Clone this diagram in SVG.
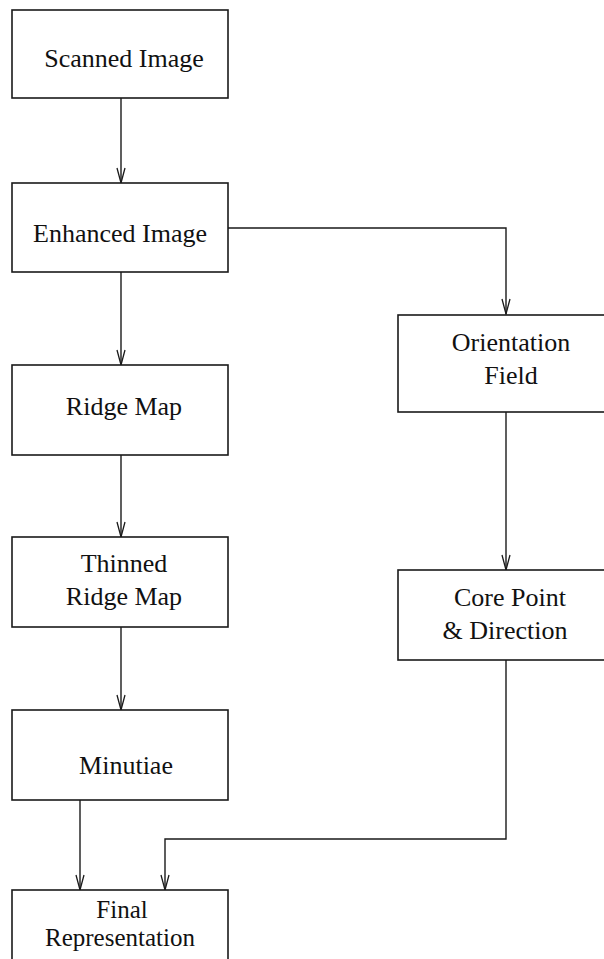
<svg xmlns="http://www.w3.org/2000/svg" width="604" height="959" viewBox="0 0 604 959">
<style>
.box{fill:#fff;stroke:#1a1a1a;stroke-width:1.6}
.lbl{font-size:26px;fill:#111;text-anchor:middle}
.con{fill:none;stroke:#1a1a1a;stroke-width:1.4}
.ah{fill:none;stroke:#1a1a1a;stroke-width:1.3}
</style>
<rect width="604" height="959" fill="#fff"/>
<g id="connectors">
<path class="con" d="M121,98 V183"/>
<path class="con" d="M228,228 H506 V314"/>
<path class="con" d="M121,272 V365"/>
<path class="con" d="M121,455 V537"/>
<path class="con" d="M121,627 V710"/>
<path class="con" d="M80,800 V890"/>
<path class="con" d="M506,412 V570"/>
<path class="con" d="M506,660 V839 H165 V890"/>
<path class="ah" d="M117,168 L121,183 L125,168"/>
<path class="ah" d="M502,299 L506,314 L510,299"/>
<path class="ah" d="M117,350 L121,365 L125,350"/>
<path class="ah" d="M117,522 L121,537 L125,522"/>
<path class="ah" d="M117,695 L121,710 L125,695"/>
<path class="ah" d="M76,875 L80,890 L84,875"/>
<path class="ah" d="M502,555 L506,570 L510,555"/>
<path class="ah" d="M161,875 L165,890 L169,875"/>
</g>
<g font-family="Liberation Serif, Times New Roman, DejaVu Serif, serif">
<g id="scanned"><rect class="box" x="12" y="10" width="216" height="88"/><text class="lbl" x="124" y="67">Scanned Image</text></g>
<g id="enhanced"><rect class="box" x="12" y="183" width="216" height="89"/><text class="lbl" x="120" y="242">Enhanced Image</text></g>
<g id="ridge"><rect class="box" x="12" y="365" width="216" height="90"/><text class="lbl" x="124" y="415">Ridge Map</text></g>
<g id="thinned"><rect class="box" x="12" y="537" width="216" height="90"/><text class="lbl" x="124" y="572">Thinned</text><text class="lbl" x="124" y="605">Ridge Map</text></g>
<g id="minutiae"><rect class="box" x="12" y="710" width="216" height="90"/><text class="lbl" x="126" y="774">Minutiae</text></g>
<g id="final"><rect class="box" x="12" y="890" width="216" height="90"/><text class="lbl" x="122" y="918" style="font-size:25px">Final</text><text class="lbl" x="120" y="946" style="font-size:25px">Representation</text></g>
<g id="orientation"><rect class="box" x="398" y="315" width="220" height="97"/><text class="lbl" x="511" y="351">Orientation</text><text class="lbl" x="511" y="384">Field</text></g>
<g id="core"><rect class="box" x="398" y="570" width="220" height="90"/><text class="lbl" x="510" y="606">Core Point</text><text class="lbl" x="505" y="639">&amp; Direction</text></g>
</g>
</svg>
